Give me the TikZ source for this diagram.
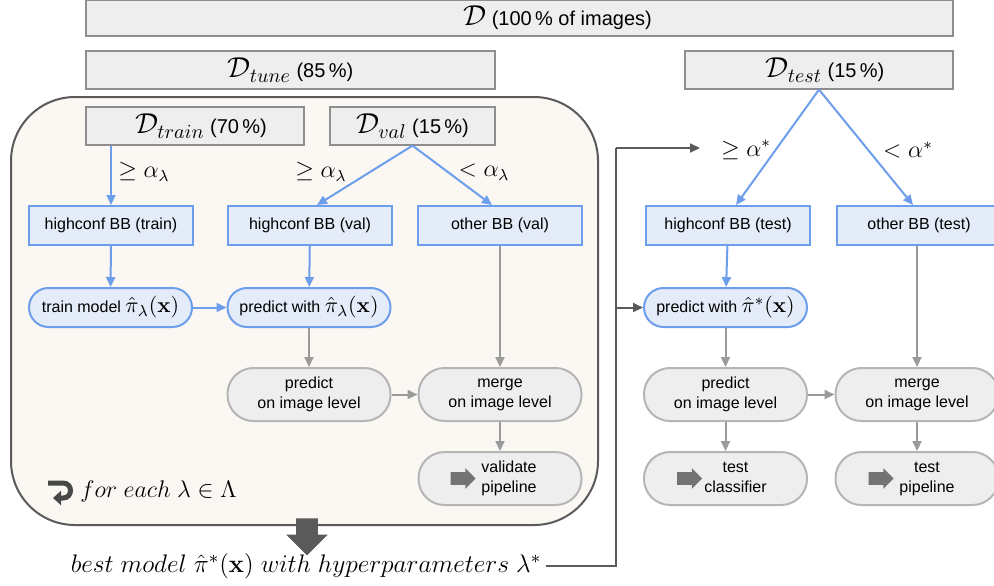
\RequirePackage{fix-cm}
\documentclass[tikz,border=0pt]{standalone}
\usepackage[no-math]{fontspec}
\setmainfont{Liberation Sans}
\usepackage{amsmath,amssymb}
\usetikzlibrary{shapes,arrows,arrows.meta,positioning}

\definecolor{bbline}{HTML}{6D9EEB}
\definecolor{bbfill}{HTML}{E4ECF9}
\definecolor{greyfill}{HTML}{EEEEEE}
\definecolor{splitline}{HTML}{8E8E8E}
\definecolor{pillline}{HTML}{B5B5B5}
\definecolor{arrowgrey}{HTML}{9A9A9A}
\definecolor{darkgrey}{HTML}{5A5A5A}
\definecolor{loopfill}{HTML}{FBF7F2}

\newcommand{\dsplit}[2]{{\fontsize{14.4}{15}\selectfont$\mathcal{D}_{#1}$} (#2\,\%)}
\newcommand{\mth}[1]{{\fontsize{10.95}{12}\selectfont$#1$}}

\begin{document}
\begin{tikzpicture}[x=0.5pt, y=-0.5pt, font=\fontsize{8}{10}\selectfont]
    \tikzstyle{split} = [rectangle, draw=splitline, fill=greyfill, line width=0.6pt, inner sep=0pt, minimum height=19pt, font=\fontsize{10}{12}\selectfont]
    \tikzstyle{bbox} = [rectangle, draw=bbline, fill=bbfill, line width=1pt, inner sep=0pt, minimum width=82pt, minimum height=19.5pt]
    \tikzstyle{model} = [bbox, rounded corners=9.75pt, minimum width=81.5pt]
    \tikzstyle{stage} = [rectangle, draw=pillline, fill=greyfill, line width=1pt, rounded corners=13pt, inner sep=0pt, minimum width=81.5pt, minimum height=26.5pt, align=center]
    \tikzstyle{fwd} = [single arrow, fill=darkgrey!85, inner sep=3pt, minimum height=12.5pt, single arrow head extend=2pt, single arrow head indent=0pt]
    \tikzstyle{cond} = [font=\fontsize{12}{14}\selectfont]
    \tikzstyle{line} = [draw, bbline, line width=1pt, -{Triangle[length=5pt, width=4.5pt]}]
    \tikzstyle{greyline} = [draw, arrowgrey, line width=1pt, -{Triangle[length=5pt, width=4.5pt]}]
    \tikzstyle{darkline} = [draw, darkgrey, line width=1pt, -{Triangle[length=5pt, width=4.5pt]}]

    \useasboundingbox (0,0) rectangle (994,585);

    % tuning loop
    \node [rectangle, draw=darkgrey, fill=loopfill, line width=1pt, rounded corners=32pt, minimum width=293.5pt, minimum height=214pt] (loop) at (304.5,311) {};

    % data splits
    \node [split, minimum width=433.5pt, minimum height=18pt] (dall) at (519.5,18) {\hskip38pt{\fontsize{14.4}{15}\selectfont$\mathcal{D}$} (100\,\% of images)};
    \node [split, minimum width=204.5pt] (dtune) at (290.5,70) {\dsplit{tune}{85}};
    \node [split, minimum width=134pt] (dtest) at (819,70) {\hskip6pt\dsplit{test}{15}};
    \node [split, minimum width=109pt] (dtrain) at (195,126) {\hskip6pt\dsplit{train}{70}};
    \node [split, minimum width=82.5pt] (dval) at (412.5,126) {\dsplit{val}{15}};

    % bounding boxes
    \node [bbox] (hctrain) at (111,225.5) {highconf BB (train)};
    \node [bbox] (hcval) at (310,225.5) {highconf BB (val)};
    \node [bbox] (otval) at (500,225.5) {other BB (val)};
    \node [bbox] (hctest) at (728,225.5) {highconf BB (test)};
    \node [bbox] (ottest) at (919,225.5) {other BB (test)};

    % models
    \node [model] (trainm) at (110.5,307.5) {train model \mth{\hat{\pi}_\lambda(\mathbf{x})}};
    \node [model] (predval) at (309,307.5) {predict with \mth{\hat{\pi}_\lambda(\mathbf{x})}};
    \node [model] (predtest) at (725.5,307.5) {predict with \mth{\hat{\pi}^*(\mathbf{x})}};

    % image level
    \node [stage] (imgval) at (309,394.5) {predict\\on image level};
    \node [stage] (mergeval) at (500,394.5) {merge\\on image level};
    \node [stage] (imgtest) at (725.5,394.5) {predict\\on image level};
    \node [stage] (mergetest) at (917,394.5) {merge\\on image level};
    \node [stage] (validate) at (500,478.5) {\hskip9pt\begin{tabular}{@{}c@{}}validate\\pipeline\end{tabular}};
    \node [stage] (testcls) at (725.5,478.5) {\hskip10pt\begin{tabular}{@{}c@{}}test\\classifier\end{tabular}};
    \node [stage] (testpipe) at (917,478.5) {\hskip10pt\begin{tabular}{@{}c@{}}test\\pipeline\end{tabular}};
    \node [fwd] (validateicon) at ([xshift=-20pt]validate.center) {};
    \node [fwd] (testclsicon) at ([xshift=-19.5pt]testcls.center) {};
    \node [fwd] (testpipeicon) at ([xshift=-19.5pt]testpipe.center) {};

    % thresholds
    \node [cond] (ctrain) at (144,172) {$\geq\alpha_\lambda$};
    \node [cond] (cvalhi) at (321,172) {$\geq\alpha_\lambda$};
    \node [cond] (cvallo) at (484,172) {$<\alpha_\lambda$};
    \node [cond] (ctesthi) at (746,150) {$\geq\alpha^*$};
    \node [cond] (ctestlo) at (908,150) {$<\alpha^*$};

    % loop label and result
    \draw [darkgrey!80!black, line width=2.5pt, -{Triangle[length=4pt, width=7pt]}] (48,483) -- (63,483) .. controls (73,483) and (73,498) .. (63,498) -- (53,498);
    \node [font=\fontsize{12}{14}\selectfont, anchor=west, inner sep=0pt] (foreach) at (80,491) {$for\ each\ \lambda\in\Lambda$};
    \node [single arrow, fill=darkgrey, shape border rotate=270, inner sep=5.25pt, minimum height=18.5pt, single arrow head extend=5pt, single arrow head indent=0pt] (best arrow) at (307,531.5) {};
    \node [font=\fontsize{12.7}{14}\selectfont, inner sep=0pt] (best) at (306,566) {$best\ model\ \hat{\pi}^*(\mathbf{x})\ with\ hyperparameters\ \lambda^*$};
    \coordinate (bend) at (616,148);
    \coordinate (tip) at (700,148);

    \path [line] (dtrain.south -| hctrain.north) -- (hctrain.north);
    \path [line] (dval.south) -- ([xshift=3.5pt]hcval.north);
    \path [line] (dval.south) -- ([xshift=-4pt]otval.north);
    \path [line] (dtest.south) -- ([xshift=4pt]hctest.north);
    \path [line] (dtest.south) -- ([xshift=-3pt]ottest.north);
    \path [line] (hctrain) -- (trainm);
    \path [line] (trainm) -- (predval);
    \path [line] (hcval) -- (predval);
    \path [line] (hctest) -- (predtest);
    \path [greyline] (predval) -- (imgval);
    \path [greyline] (imgval) -- (mergeval);
    \path [greyline] (otval) -- (mergeval);
    \path [greyline] (mergeval) -- (validate);
    \path [greyline] (predtest) -- (imgtest);
    \path [greyline] (imgtest) -- (mergetest);
    \path [greyline] (ottest.south -| mergetest) -- (mergetest);
    \path [greyline] (imgtest) -- (testcls);
    \path [greyline] (mergetest) -- (testpipe);
    \draw [darkline, -] ([xshift=2pt]best.east) -| (bend);
    \path [darkline] (bend) -- (tip);
    \path [darkline] (bend |- predtest.west) -- (predtest.west);
\end{tikzpicture}
\end{document}
